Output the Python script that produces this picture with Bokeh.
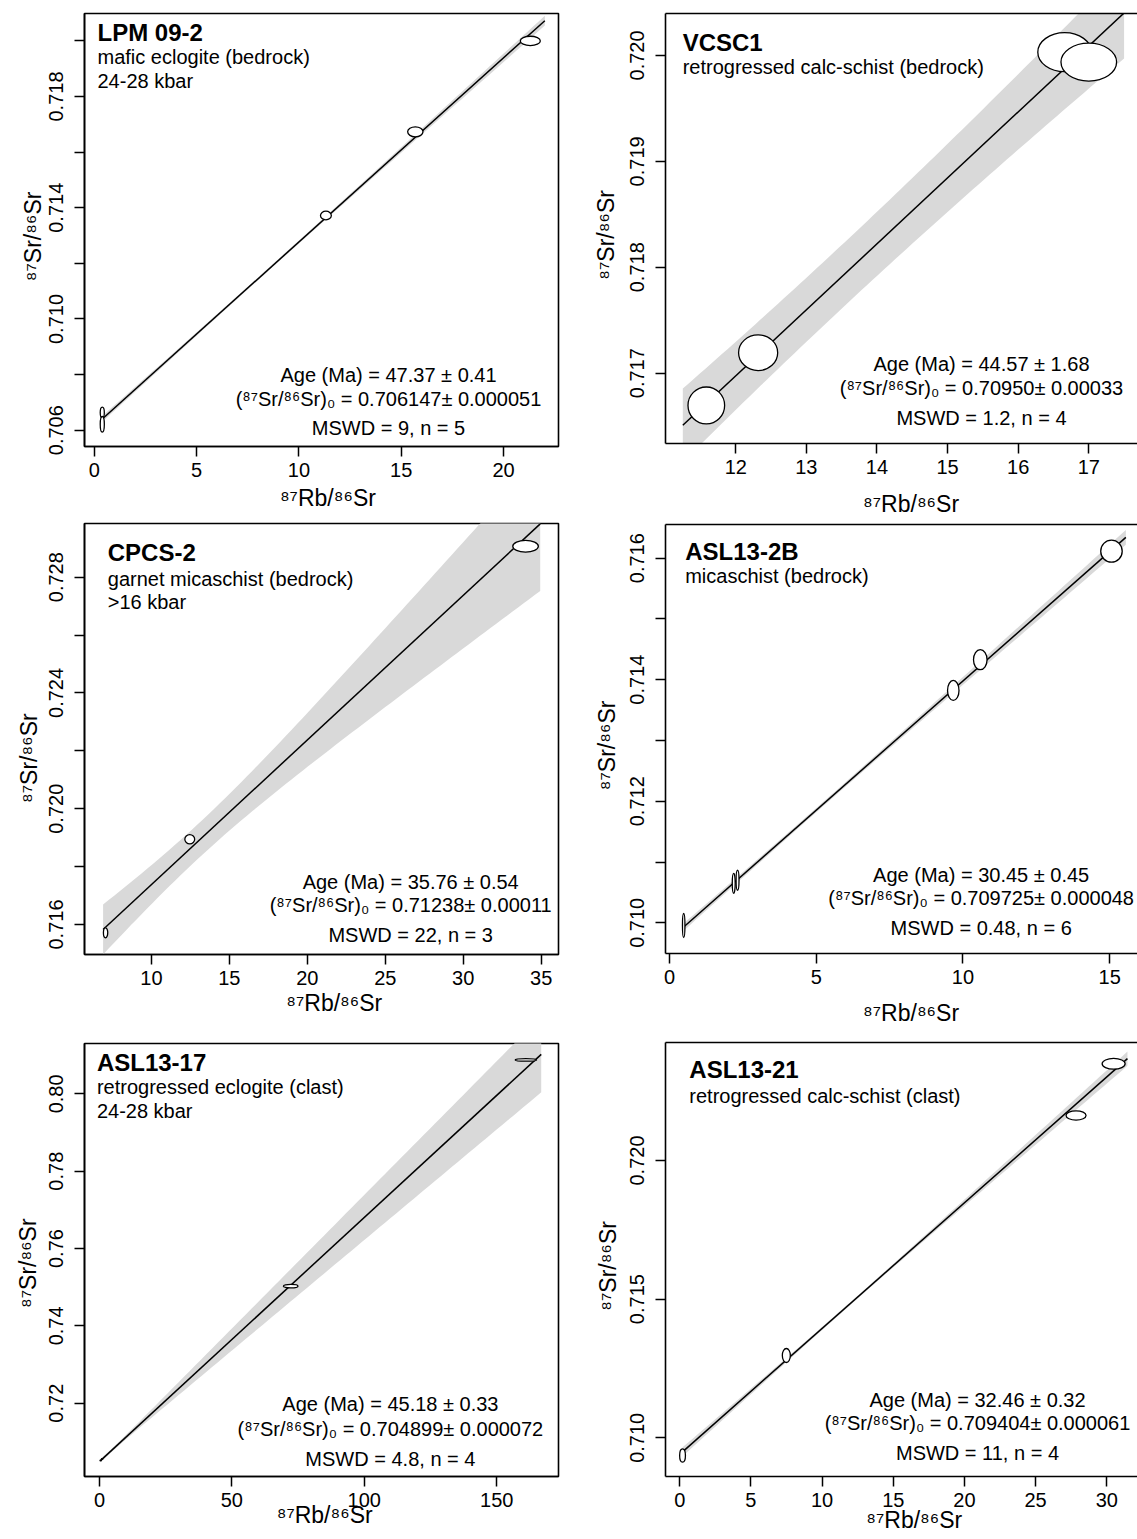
import numpy as np
from bokeh.plotting import figure
from bokeh.models import Label, LinearAxis, FixedTicker, Range1d
from bokeh.layouts import row, column
from bokeh.embed import file_html
from bokeh.resources import INLINE

# 87Rb decay constant (1/yr) used to turn an isochron age into a slope
LAMBDA_RB87 = 1.3972e-11
FONT = "Liberation Sans"
BAND = "#d9d9d9"
XTITLE = "\u2078\u2077Rb/\u2078\u2076Sr"
YTITLE = "\u2078\u2077Sr/\u2078\u2076Sr"
NBSP = "\u00a0"
MID = 0.3465  # distance from baseline to the middle of a text line, in em

# ---------------- LPM 09-2 ----------------
lpm_rb = [0.39, 0.39, 11.32, 15.69, 21.31]
lpm_sr = [0.70664, 0.70621, 0.71372, 0.71673, 0.72000]
lpm_rb_w = [0.20, 0.20, 0.53, 0.75, 0.98]
lpm_sr_h = [0.000385, 0.000565, 0.000313, 0.00036, 0.000334]
lpm_age = [47.37, 0.41]
lpm_sr0 = ["0.706147", "0.000051"]
lpm_mswd, lpm_n = "9", 5
lpm_fit_x = [0.39, 22.02]
lpm_env = [5.0e-5, 8.0, 1.2e-5]
lpm_xticks = [0, 5, 10, 15, 20]
lpm_yticks = [0.706, 0.708, 0.710, 0.712, 0.714, 0.716, 0.718, 0.720]
lpm_ylabels = ["0.706", "", "0.710", "", "0.714", "", "0.718", ""]

# ---------------- VCSC1 ----------------
vcsc_rb = [11.583, 12.317, 16.658, 17.00]
vcsc_sr = [0.716695, 0.717193, 0.720031, 0.719937]
vcsc_rb_w = [0.519, 0.554, 0.760, 0.788]
vcsc_sr_h = [0.000349, 0.000337, 0.000368, 0.000359]
vcsc_age = [44.57, 1.68]
vcsc_sr0 = ["0.70950", "0.00033"]
vcsc_mswd, vcsc_n = "1.2", 4
vcsc_fit_x = [11.25, 17.50]
vcsc_env = [3.0e-4, 13.5, 7.7e-5]
vcsc_xticks = [12, 13, 14, 15, 16, 17]
vcsc_yticks = [0.717, 0.718, 0.719, 0.720]
vcsc_ylabels = ["0.717", "0.718", "0.719", "0.720"]

# ---------------- CPCS-2 ----------------
cpcs_rb = [7.06, 12.46, 34.0]
cpcs_sr = [0.715713, 0.718947, 0.729071]
cpcs_rb_w = [0.278, 0.632, 1.643]
cpcs_sr_h = [0.000345, 0.000321, 0.000404]
cpcs_age = [35.76, 0.54]
cpcs_sr0 = ["0.71238", "0.00011"]
cpcs_mswd, cpcs_n = "22", 3
cpcs_fit_x = [6.90, 34.94]
cpcs_env = [6.0e-4, 13.0, 1.02e-4]
cpcs_xticks = [10, 15, 20, 25, 30, 35]
cpcs_yticks = [0.716, 0.718, 0.720, 0.722, 0.724, 0.726, 0.728]
cpcs_ylabels = ["0.716", "", "0.720", "", "0.724", "", "0.728"]

# ---------------- ASL13-2B ----------------
asl2b_rb = [0.485, 2.19, 2.32, 9.67, 10.59, 15.06]
asl2b_sr = [0.709956, 0.710650, 0.710700, 0.713824, 0.714329, 0.716115]
asl2b_rb_w = [0.084, 0.10, 0.10, 0.391, 0.462, 0.732]
asl2b_sr_h = [0.000395, 0.000329, 0.000329, 0.000329, 0.000329, 0.000362]
asl2b_age = [30.45, 0.45]
asl2b_sr0 = ["0.709725", "0.000048"]
asl2b_mswd, asl2b_n = "0.48", 6
asl2b_fit_x = [0.485, 15.55]
asl2b_env = [3.5e-5, 5.0, 1.1e-5]
asl2b_xticks = [0, 5, 10, 15]
asl2b_yticks = [0.710, 0.711, 0.712, 0.713, 0.714, 0.715, 0.716]
asl2b_ylabels = ["0.710", "", "0.712", "", "0.714", "", "0.716"]

# ---------------- ASL13-17 ----------------
asl17_rb = [0.45, 1.0, 72.2, 161.0]
asl17_sr = [0.70518, 0.70555, 0.75026, 0.80879]
asl17_rb_w = [0.5, 0.5, 5.5, 8.1]
asl17_sr_h = [0.0002, 0.0002, 0.0009, 0.00065]
asl17_age = [45.18, 0.33]
asl17_sr0 = ["0.704899", "0.000072"]
asl17_mswd, asl17_n = "4.8", 4
asl17_fit_x = [0.40, 166.8]
asl17_env = [4.0e-4, 3.0, 6.0e-5]
asl17_xticks = [0, 50, 100, 150]
asl17_yticks = [0.72, 0.74, 0.76, 0.78, 0.80]
asl17_ylabels = ["0.72", "0.74", "0.76", "0.78", "0.80"]

# ---------------- ASL13-21 ----------------
asl21_rb = [0.20, 7.49, 27.84, 30.48]
asl21_sr = [0.709362, 0.712968, 0.721623, 0.723487]
asl21_rb_w = [0.407, 0.562, 1.405, 1.616]
asl21_sr_h = [0.00048, 0.000505, 0.000335, 0.000386]
asl21_age = [32.46, 0.32]
asl21_sr0 = ["0.709404", "0.000061"]
asl21_mswd, asl21_n = "11", 4
asl21_fit_x = [0.20, 31.45]
asl21_env = [5.0e-5, 12.0, 1.3e-5]
asl21_xticks = [0, 5, 10, 15, 20, 25, 30]
asl21_yticks = [0.710, 0.715, 0.720]
asl21_ylabels = ["0.710", "0.715", "0.720"]


def style_axis(ax, standoff, label, label_standoff):
    ax.axis_line_color = "black"
    ax.axis_line_width = 1.6
    ax.major_tick_line_color = "black"
    ax.major_tick_line_width = 1.5
    ax.major_tick_out = 10
    ax.major_tick_in = 0
    ax.minor_tick_line_color = None
    ax.major_label_text_font = FONT
    ax.major_label_text_font_size = "20px"
    ax.major_label_text_color = "black"
    ax.major_label_standoff = standoff
    ax.axis_label = label
    ax.axis_label_text_font = FONT
    ax.axis_label_text_font_size = "23px"
    ax.axis_label_text_font_style = "normal"
    ax.axis_label_text_color = "black"
    ax.axis_label_standoff = label_standoff


def panel(name, rock, pressure, rb, sr, rb_w, sr_h, age, sr0, mswd, n, fit_x, env,
          xticks, yticks, ylabels, xr, yr, fig_w, fig_h, borders, open_right,
          title_standoffs, title_pads, ann_cx, ann_base, head_left, head_base):
    bl, br, bt, bb = borders
    fw = fig_w - bl - br
    fh = fig_h - bt - bb
    p = figure(width=fig_w, height=fig_h, x_range=Range1d(*xr), y_range=Range1d(*yr),
               output_backend="svg", toolbar_location=None,
               min_border_left=bl, min_border_right=br,
               min_border_top=bt, min_border_bottom=bb,
               background_fill_color="white", border_fill_color="white")
    p.xgrid.visible = False
    p.ygrid.visible = False

    xax = p.below[0]
    yax = p.left[0]
    xpad, ypad = title_pads
    style_axis(xax, 6, NBSP * xpad + XTITLE, title_standoffs[0])
    style_axis(yax, 11, YTITLE + NBSP * ypad, title_standoffs[1])
    xax.ticker = FixedTicker(ticks=xticks)
    xax.major_label_overrides = {t: str(t) for t in xticks}
    yax.ticker = FixedTicker(ticks=yticks)
    yax.major_label_overrides = dict(zip(yticks, ylabels))
    yax.major_label_orientation = "vertical"

    if open_right:
        # frame runs off the right edge of the page: close only the top side
        p.outline_line_color = None
        top = LinearAxis(ticker=FixedTicker(ticks=[]), axis_line_width=1.6,
                         axis_line_color="black", major_tick_out=0, major_tick_in=0,
                         major_label_text_font_size="0px", major_label_standoff=0,
                         axis_label_standoff=0, minor_tick_line_color=None)
        p.add_layout(top, "above")
    else:
        p.outline_line_color = "black"
        p.outline_line_width = 1.6
        p.outline_line_alpha = 1.0

    # isochron: intercept = initial ratio, slope from the age
    a = float(sr0[0])
    b = np.expm1(LAMBDA_RB87 * age[0] * 1e6)
    xs = np.linspace(fit_x[0], fit_x[1], 80)
    h0, xc, k = env
    hw = np.sqrt(h0 ** 2 + (k * (xs - xc)) ** 2)
    p.varea(x=xs, y1=a + b * xs - hw, y2=a + b * xs + hw, fill_color=BAND)
    p.line(x=[fit_x[0], fit_x[1]], y=[a + b * fit_x[0], a + b * fit_x[1]],
           line_color="black", line_width=1.5)
    p.ellipse(x=rb, y=sr, width=rb_w, height=sr_h, fill_color="white",
              line_color="black", line_width=1.3)

    sx = (xr[1] - xr[0]) / fw
    sy = (yr[1] - yr[0]) / fh

    # result block, lines given by their baseline height above the frame bottom
    lines = [f"Age (Ma) = {age[0]:.2f} \u00b1 {age[1]:.2f}",
             f"(\u2078\u2077Sr/\u2078\u2076Sr)\u2080 = {sr0[0]}\u00b1 {sr0[1]}",
             f"MSWD = {mswd}, n = {n}"]
    for txt, base in zip(lines, ann_base):
        p.add_layout(Label(x=xr[0] + ann_cx * sx, y=yr[0] + (base + MID * 20) * sy,
                           text=txt, text_font=FONT, text_font_size="20px",
                           text_color="black", text_align="center",
                           text_baseline="middle"))

    # sample header, lines given by their baseline depth below the frame top
    heads = [(name, "bold", 24)]
    heads += [(t, "normal", 20) for t in (rock, pressure) if t]
    for (txt, style, size), base in zip(heads, head_base):
        p.add_layout(Label(x=xr[0] + head_left * sx, y=yr[1] - (base - MID * size) * sy,
                           text=txt, text_font=FONT, text_font_size=f"{size}px",
                           text_font_style=style, text_color="black",
                           text_align="left", text_baseline="middle"))
    return p


p1 = panel("LPM 09-2", "mafic eclogite (bedrock)", "24-28 kbar",
           lpm_rb, lpm_sr, lpm_rb_w, lpm_sr_h, lpm_age, lpm_sr0, lpm_mswd, lpm_n,
           lpm_fit_x, lpm_env, lpm_xticks, lpm_yticks, lpm_ylabels,
           (-0.479, 22.688), (0.705414, 0.720985), 580, 517, (84, 22, 13, 71), False,
           (5, 1), (2, 2), 304, (64.3, 41, 11.7), 13, (27.3, 50, 74.6))
p3 = panel("CPCS-2", "garnet micaschist (bedrock)", ">16 kbar",
           cpcs_rb, cpcs_sr, cpcs_rb_w, cpcs_sr_h, cpcs_age, cpcs_sr0, cpcs_mswd, cpcs_n,
           cpcs_fit_x, cpcs_env, cpcs_xticks, cpcs_yticks, cpcs_ylabels,
           (5.708, 36.113), (0.714964, 0.729855), 580, 505, (83, 16, 6, 68), False,
           (2, 5), (4, 6), 331, (65.7, 42.3, 12.3), 23.6, (37.3, 62.3, 85.6))
p5 = panel("ASL13-17", "retrogressed eclogite (clast)", "24-28 kbar",
           asl17_rb, asl17_sr, asl17_rb_w, asl17_sr_h, asl17_age, asl17_sr0, asl17_mswd,
           asl17_n, asl17_fit_x, asl17_env, asl17_xticks, asl17_yticks, asl17_ylabels,
           (-5.646, 173.32), (0.701044, 0.813026), 580, 517, (80, 15, 21, 63), False,
           (-8, 6), (1, 1), 313, (66, 41, 11), 12.7, (27.3, 50, 74))
p2 = panel("VCSC1", "retrogressed calc-schist (bedrock)", None,
           vcsc_rb, vcsc_sr, vcsc_rb_w, vcsc_sr_h, vcsc_age, vcsc_sr0, vcsc_mswd, vcsc_n,
           vcsc_fit_x, vcsc_env, vcsc_xticks, vcsc_yticks, vcsc_ylabels,
           (11.005, 17.690), (0.716336, 0.720396), 557, 523, (82, 0, 13, 80), True,
           (14, 9), (3, 2), 318, (72.6, 48.3, 18.3), 17.3, (37.3, 60))
p4 = panel("ASL13-2B", "micaschist (bedrock)", None,
           asl2b_rb, asl2b_sr, asl2b_rb_w, asl2b_sr_h, asl2b_age, asl2b_sr0, asl2b_mswd,
           asl2b_n, asl2b_fit_x, asl2b_env, asl2b_xticks, asl2b_yticks, asl2b_ylabels,
           (-0.135, 15.947), (0.709495, 0.716554), 557, 509, (80, 0, 1, 79), True,
           (13, 8), (3, 2), 319, (71.6, 48.3, 18.3), 19.9, (35.6, 58))
p6 = panel("ASL13-21", "retrogressed calc-schist (clast)", None,
           asl21_rb, asl21_sr, asl21_rb_w, asl21_sr_h, asl21_age, asl21_sr0, asl21_mswd,
           asl21_n, asl21_fit_x, asl21_env, asl21_xticks, asl21_yticks, asl21_ylabels,
           (-0.997, 32.156), (0.708605, 0.724254), 557, 507, (85, 0, 10, 63), True,
           (-3, 7), (4, 2), 312, (69.7, 46.4, 16.4), 23.8, (35.6, 60))

layout = row(column(p1, p3, p5), column(p2, p4, p6))
open("out.html", "w").write(file_html(layout, INLINE))
